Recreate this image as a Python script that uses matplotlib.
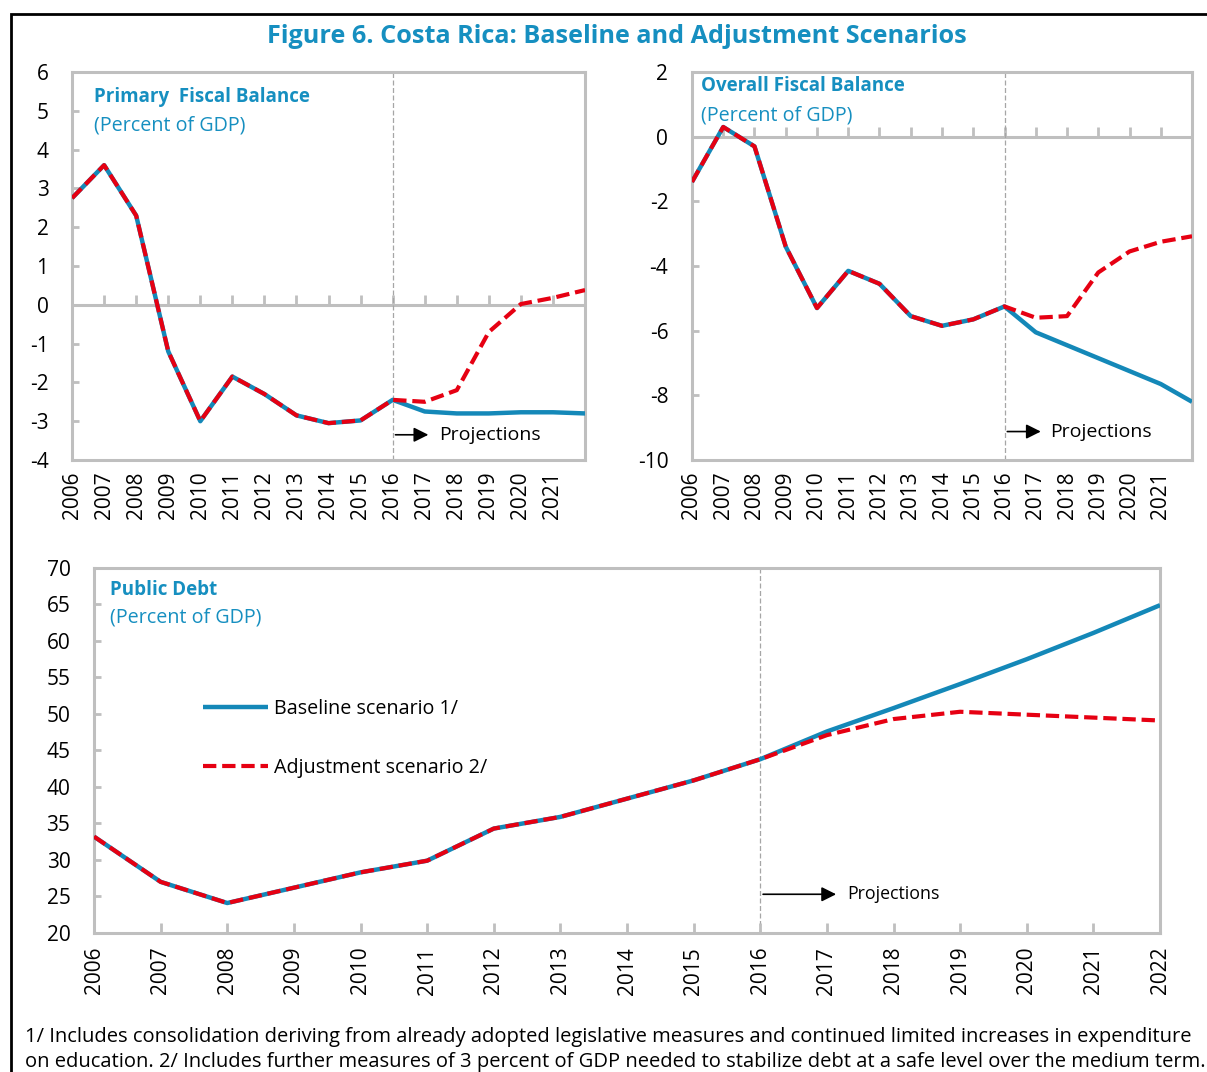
import numpy as np
import matplotlib.pyplot as plt
from matplotlib.patches import Rectangle

plt.rcParams['font.family'] = ['Open Sans', 'DejaVu Sans']
plt.rcParams['axes.unicode_minus'] = False

# data (percent of GDP)
years = np.arange(2006, 2023)
primary_base = [2.75, 3.6, 2.3, -1.2, -3.0, -1.85, -2.3, -2.85, -3.05, -2.98, -2.45,
                -2.75, -2.8, -2.8, -2.77, -2.77, -2.8]
primary_adj = [2.75, 3.6, 2.3, -1.2, -3.0, -1.85, -2.3, -2.85, -3.05, -2.98, -2.45,
               -2.5, -2.2, -0.7, 0.02, 0.18, 0.38]
overall_base = [-1.4, 0.3, -0.3, -3.4, -5.3, -4.15, -4.55, -5.55, -5.85, -5.65, -5.25,
                -6.05, -6.45, -6.85, -7.25, -7.65, -8.2]
overall_adj = [-1.4, 0.3, -0.3, -3.4, -5.3, -4.15, -4.55, -5.55, -5.85, -5.65, -5.25,
               -5.6, -5.55, -4.2, -3.55, -3.25, -3.08]
debt_base = [33.2, 27.0, 24.1, 26.2, 28.3, 29.9, 34.3, 35.9, 38.4, 40.9, 43.8,
             47.6, 50.8, 54.1, 57.5, 61.1, 64.9]
debt_adj = [33.2, 27.0, 24.1, 26.2, 28.3, 29.9, 34.3, 35.9, 38.4, 40.9, 43.8,
            47.1, 49.3, 50.3, 49.9, 49.5, 49.1]

BLUE = '#1488B8'
RED = '#E60012'
TITLE = '#168FC0'
GREY = '#BFBFBF'

fig = plt.figure(figsize=(12.07, 10.72), dpi=100)


def style(ax, ylim, yticks, xlabels, proj_y, arrow_end, proj_x, proj_fs, title,
          tx, ty1, ty2, zero_line):
    ax.set_xlim(2006, 2022)
    ax.set_ylim(*ylim)
    ax.set_yticks(yticks)
    ax.set_xticks(xlabels)
    ax.set_xticklabels([str(y) for y in xlabels], rotation=90)
    for s in ax.spines.values():
        s.set_color(GREY)
        s.set_linewidth(2.2)
    ax.tick_params(axis='y', direction='in', length=5, width=2, color=GREY,
                   labelsize=15, pad=17)
    if zero_line:
        ax.tick_params(axis='x', length=0, labelsize=15, pad=8)
        ax.axhline(0, color=GREY, lw=2.2, zorder=1)
        ax.plot(years, np.zeros(len(years)), ls='none', marker=2, ms=7,
                mew=2, color=GREY, zorder=1)
    else:
        ax.tick_params(axis='x', direction='in', length=7, width=2, color=GREY,
                       labelsize=15, pad=10)
    ax.axvline(2016, color='#A6A6A6', lw=0.9, ls=(0, (4, 2)), zorder=1)
    ax.annotate('', xy=(arrow_end, proj_y), xytext=(2016, proj_y),
                arrowprops=dict(arrowstyle='-|>', color='black', lw=1.2,
                                mutation_scale=22))
    ax.text(proj_x, proj_y, 'Projections', fontsize=proj_fs, va='center', ha='left')
    ax.text(tx, ty1, title, transform=ax.transAxes, fontsize=13.5,
            fontweight='bold', color=TITLE, va='center', ha='left')
    ax.text(tx, ty2, '(Percent of GDP)', transform=ax.transAxes, fontsize=14.2,
            color=TITLE, va='center', ha='left')


def draw(ax, base, adj):
    ax.plot(years, base, color=BLUE, lw=3.2, zorder=3, solid_capstyle='butt',
            label='Baseline scenario 1/')
    ax.plot(years, adj, color=RED, lw=3, ls=(0, (3.2, 1.4)), zorder=4,
            label='Adjustment scenario 2/')


ax1 = fig.add_axes([0.0597, 0.5709, 0.425, 0.3619])
draw(ax1, primary_base, primary_adj)
style(ax1, (-4, 6), range(-4, 7), range(2006, 2022), -3.35, 2017.2, 2017.45, 14,
      'Primary  Fiscal Balance', 0.043, 0.936, 0.861, True)

ax2 = fig.add_axes([0.5733, 0.5709, 0.4143, 0.3619])
draw(ax2, overall_base, overall_adj)
style(ax2, (-10, 2), range(-10, 3, 2), range(2006, 2022), -9.12, 2017.25, 2017.45, 14,
      'Overall Fiscal Balance', 0.018, 0.964, 0.889, True)

ax3 = fig.add_axes([0.0779, 0.1297, 0.8832, 0.3405])
draw(ax3, debt_base, debt_adj)
style(ax3, (20, 70), range(20, 71, 5), range(2006, 2023), 25.3, 2017.18, 2017.3, 12.8,
      'Public Debt', 0.015, 0.94, 0.863, False)
ax3.legend(loc='upper left', bbox_to_anchor=(0.102, 0.64), frameon=False,
           fontsize=14.2, handlelength=3.3, handletextpad=0.3,
           labelspacing=1.95, borderpad=0, borderaxespad=0)

fig.text(0.511, 0.9655, 'Figure 6. Costa Rica: Baseline and Adjustment Scenarios',
         fontsize=18.2, fontweight='bold', color=TITLE, ha='center', va='center')

fig.text(0.0207, 0.0326,
         '1/ Includes consolidation deriving from already adopted legislative measures '
         'and continued limited increases in expenditure',
         fontsize=14.5, ha='left', va='center')
fig.text(0.0207, 0.0093,
         'on education. 2/ Includes further measures of 3 percent of GDP needed to '
         'stabilize debt at a safe level over the medium term.',
         fontsize=14.5, ha='left', va='center')

fig.add_artist(Rectangle((0.0091, -0.2), 1.2, 1.187, transform=fig.transFigure,
                         fill=False, edgecolor='black', lw=2, clip_on=False))

fig.savefig('out.png', dpi=100)
